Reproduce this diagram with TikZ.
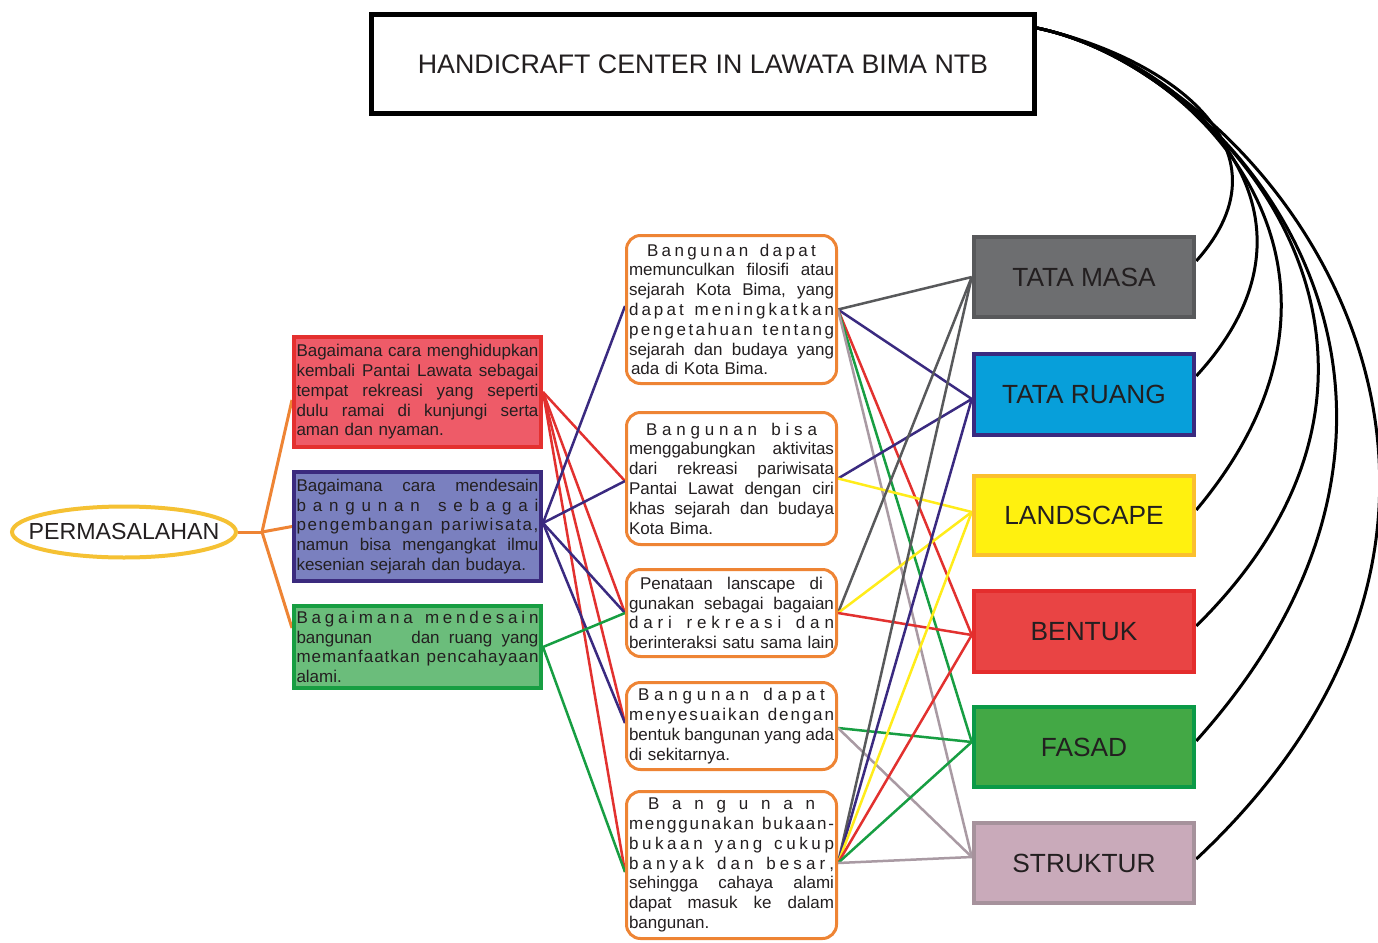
\documentclass[tikz,border=0pt]{standalone}
\usepackage{fontspec}
\setmainfont{Liberation Sans}
\usetikzlibrary{shapes.geometric,backgrounds}
\setlength\parindent{0pt}

\definecolor{txt}{HTML}{231F20}
\definecolor{ellc}{HTML}{F5C133}
\definecolor{orng}{HTML}{EE8434}
\definecolor{pAfill}{HTML}{EE5B68}
\definecolor{pAdraw}{HTML}{E4302F}
\definecolor{pBfill}{HTML}{7A80BF}
\definecolor{pBdraw}{HTML}{3B2A7E}
\definecolor{pCfill}{HTML}{6BBD7B}
\definecolor{pCdraw}{HTML}{179E42}
\definecolor{tmfill}{HTML}{6D6E70}
\definecolor{tmdraw}{HTML}{58595B}
\definecolor{trfill}{HTML}{079FDA}
\definecolor{trdraw}{HTML}{3A2A7F}
\definecolor{lsfill}{HTML}{FFF10F}
\definecolor{lsdraw}{HTML}{FBBF2E}
\definecolor{befill}{HTML}{E94444}
\definecolor{bedraw}{HTML}{E42D2D}
\definecolor{fafill}{HTML}{43A845}
\definecolor{fadraw}{HTML}{0B9A47}
\definecolor{stfill}{HTML}{C9AABA}
\definecolor{stdraw}{HTML}{A6929C}
\definecolor{lgray}{HTML}{58595B}
\definecolor{lblue}{HTML}{3A2A80}
\definecolor{lred}{HTML}{E2312F}
\definecolor{lgreen}{HTML}{179E42}
\definecolor{lyell}{HTML}{FFEC1A}
\definecolor{lpink}{HTML}{A99AA3}

\ExplSyntaxOn
\bool_new:N \l__rs_first_bool
\bool_new:N \l__rs_inword_bool
\seq_new:N \l__rs_words_seq
\NewDocumentCommand \spreadtxt { m }
 {
  \seq_set_split:Nnn \l__rs_words_seq { ~ } { #1 }
  \bool_set_true:N \l__rs_first_bool
  \seq_map_inline:Nn \l__rs_words_seq
   {
    \bool_if:NTF \l__rs_first_bool
     { \bool_set_false:N \l__rs_first_bool }
     { \hskip 0.28em plus 2fil \relax }
    \bool_set_true:N \l__rs_inword_bool
    \tl_map_inline:nn { ##1 }
     {
      \bool_if:NTF \l__rs_inword_bool
       { \bool_set_false:N \l__rs_inword_bool }
       { \hskip 0pt plus 1fil \relax }
      ####1
     }
   }
 }
\NewDocumentCommand \spreadwords { m }
 {
  \seq_set_split:Nnn \l__rs_words_seq { ~ } { #1 }
  \seq_use:Nn \l__rs_words_seq { \hskip 0.28em plus 1fil minus 0.12em \relax }
 }
\ExplSyntaxOff

\newcommand\jw[1]{\leavevmode\hbox to\linewidth{\spreadwords{#1}}}
\newcommand\js[1]{\leavevmode\hbox to\linewidth{\spreadtxt{#1}}}
\newcommand\jc[2]{\leavevmode\hbox to\linewidth{\hskip#1pt\spreadtxt{#2}\hskip#1pt}}
\newcommand\jwi[2]{\leavevmode\hbox to\linewidth{\hskip#1pt\spreadwords{#2}\hskip#1pt}}

\begin{document}
\begin{tikzpicture}[x=1pt,y=-1pt,
  probbox/.style={rectangle, line width=4pt, minimum width=247pt, inner xsep=2.5pt, inner ysep=0pt,
    text width=242pt, align=left, font=\fontsize{17}{19.8}\selectfont, text=txt},
  midbox/.style={rectangle, rounded corners=14pt, draw=orng, line width=3pt, fill=white,
    minimum width=210pt, inner xsep=2.5pt, inner ysep=0pt, text width=205pt, align=left,
    font=\fontsize{17}{19.8}\selectfont, text=txt},
  catbox/.style={rectangle, line width=4.5pt, minimum width=220pt, minimum height=80pt,
    font=\fontsize{26.3}{30}\selectfont, text=txt},
  conn/.style={line width=2.5pt},
  arc/.style={line width=3pt, draw=black},
  orline/.style={line width=3pt, draw=orng}]
\useasboundingbox (0,0) rectangle (1378,942);

% title
\node[draw=black, line width=5pt, minimum width=663pt, minimum height=99pt,
  font=\fontsize{26.8}{30}\selectfont, text=txt] (title) at (703,64) {HANDICRAFT CENTER IN LAWATA BIMA NTB};

% PERMASALAHAN
\node[ellipse, draw=ellc, line width=4pt, fill=white, minimum width=224pt, minimum height=51pt, inner sep=0pt] (perm) at (124,532) {};
\node[font=\fontsize{23.2}{26}\selectfont, text=txt] (permtext) at (perm.center) {PERMASALAHAN};

% problem boxes
\node[probbox, draw=pAdraw, fill=pAfill, minimum height=110pt] (p1) at (417.5,392) {%
\jw{Bagaimana cara menghidupkan}\\
\jw{kembali Pantai Lawata sebagai}\\
\jw{tempat rekreasi yang seperti}\\
\jw{dulu ramai di kunjungi serta}\\
aman dan nyaman.};
\node[probbox, draw=pBdraw, fill=pBfill, minimum height=109pt] (p2) at (417.5,526.5) {%
\jw{Bagaimana cara mendesain}\\
\js{bangunan sebagai}\\
\js{pengembangan pariwisata,}\\
\jw{namun bisa mengangkat ilmu}\\
kesenian sejarah dan budaya.};
\node[probbox, draw=pCdraw, fill=pCfill, minimum height=82pt] (p3) at (417.5,647) {%
\js{Bagaimana mendesain}\\
\jw{bangunan\hspace{30pt} dan ruang yang}\\
\js{memanfaatkan pencahayaan}\\
alami.};

% middle boxes
\node[midbox, minimum height=148pt] (m1) at (731.5,309.5) {%
\jc{18}{Bangunan dapat}\\
\jw{memunculkan filosifi atau}\\
\jw{sejarah Kota Bima, yang}\\
\js{dapat meningkatkan}\\
\js{pengetahuan tentang}\\
\jw{sejarah dan budaya yang}\\
\hspace*{2pt}ada di Kota Bima.};
\node[midbox, minimum height=132pt] (m2) at (731.5,478.5) {%
\jc{17}{Bangunan bisa}\\
\jw{menggabungkan aktivitas}\\
\jw{dari rekreasi pariwisata}\\
\jw{Pantai Lawat dengan ciri}\\
\jw{khas sejarah dan budaya}\\
Kota Bima.};
\node[midbox, minimum height=87pt] (m3) at (731.5,613) {%
\jwi{11}{Penataan lanscape di}\\
\jw{gunakan sebagai bagaian}\\
\js{dari rekreasi dan}\\
\jw{berinteraksi satu sama lain}};
\node[midbox, minimum height=87pt] (m4) at (731.5,726) {%
\jc{9}{Bangunan dapat}\\
\js{menyesuaikan dengan}\\
\jw{bentuk bangunan yang ada}\\
di sekitarnya.};
\node[midbox, minimum height=147pt] (m5) at (731.5,865) {%
\jc{19}{Bangunan}\\
\js{menggunakan bukaan-}\\
\js{bukaan yang cukup}\\
\js{banyak dan besar,}\\
\jw{sehingga cahaya alami}\\
\jw{dapat masuk ke dalam}\\
bangunan.};

% category boxes
\node[catbox, draw=tmdraw, fill=tmfill] (tm) at (1084,277) {TATA MASA};
\node[catbox, draw=trdraw, fill=trfill, minimum height=81pt] (tr) at (1084,394.5) {TATA RUANG};
\node[catbox, draw=lsdraw, fill=lsfill, minimum height=79pt] (ls) at (1084,515.5) {LANDSCAPE};
\node[catbox, draw=bedraw, fill=befill, minimum height=81pt] (be) at (1084,631.5) {BENTUK};
\node[catbox, draw=fadraw, fill=fafill] (fa) at (1084,747) {FASAD};
\node[catbox, draw=stdraw, fill=stfill] (st) at (1084,863) {STRUKTUR};

% connection points
\coordinate (br) at (262,532);
\coordinate (p1o) at ([yshift=-8pt]p1.west);
\coordinate (p3o) at ([yshift=19pt]p3.west);
\coordinate (p1e) at (p1.east);
\coordinate (p2e) at ([yshift=3.5pt]p2.east);
\coordinate (p3e) at (p3.east);
\coordinate (m1w) at ([yshift=3.5pt]m1.west);
\coordinate (m2w) at ([yshift=-2.5pt]m2.west);
\coordinate (m3w) at (m3.west);
\coordinate (m4w) at ([yshift=3pt]m4.west);
\coordinate (m5w) at ([yshift=-7pt]m5.west);
\coordinate (m1e) at (m1.east);
\coordinate (m2e) at (m2.east);
\coordinate (m3e) at (m3.east);
\coordinate (m4e) at ([yshift=-2pt]m4.east);
\coordinate (m5e) at ([yshift=2pt]m5.east);
\coordinate (tmw) at (tm.west);
\coordinate (trw) at ([yshift=-4.5pt]tr.west);
\coordinate (lsw) at ([yshift=3.5pt]ls.west);
\coordinate (bew) at ([yshift=-3.5pt]be.west);
\coordinate (faw) at ([yshift=5pt]fa.west);
\coordinate (stw) at ([yshift=6pt]st.west);
\coordinate (ts) at ([yshift=-16pt]title.north east);
\coordinate (tme) at ([yshift=16pt]tm.east);
\coordinate (tre) at ([yshift=18.5pt]tr.east);
\coordinate (lse) at ([yshift=5.5pt]ls.east);
\coordinate (bee) at ([yshift=5.5pt]be.east);
\coordinate (fae) at ([yshift=6pt]fa.east);
\coordinate (ste) at ([yshift=4pt]st.east);

\begin{scope}[on background layer]
\fill[white] (0,0) rectangle (1378,942);
% orange tree
\draw[orline] (perm.east) -- (br);
\draw[orline] (br) -- (p1o);
\draw[orline] (br) -- (p2.west);
\draw[orline] (br) -- (p3o);
% problems to middle
\draw[conn, lred] (p1e) -- (m2w);
\draw[conn, lred] (p1e) -- (m3w);
\draw[conn, lred] (p1e) -- (m4w);
\draw[conn, lred] (p1e) -- (m5w);
\draw[conn, lblue] (p2e) -- (m1w);
\draw[conn, lblue] (p2e) -- (m2w);
\draw[conn, lblue] (p2e) -- (m3w);
\draw[conn, lblue] (p2e) -- (m4w);
\draw[conn, lgreen] (p3e) -- (m3w);
\draw[conn, lgreen] (p3e) -- (m5w);
% middle to categories
\draw[conn, lgray] (m1e) -- (tmw);
\draw[conn, lblue] (m1e) -- (trw);
\draw[conn, lred] (m1e) -- (bew);
\draw[conn, lgreen] (m1e) -- (faw);
\draw[conn, lpink] (m1e) -- (stw);
\draw[conn, lblue] (m2e) -- (trw);
\draw[conn, lyell] (m2e) -- (lsw);
\draw[conn, lgray] (m3e) -- (tmw);
\draw[conn, lyell] (m3e) -- (lsw);
\draw[conn, lred] (m3e) -- (bew);
\draw[conn, lgreen] (m4e) -- (faw);
\draw[conn, lpink] (m4e) -- (stw);
\draw[conn, lgray] (m5e) -- (tmw);
\draw[conn, lblue] (m5e) -- (trw);
\draw[conn, lyell] (m5e) -- (lsw);
\draw[conn, lred] (m5e) -- (bew);
\draw[conn, lgreen] (m5e) -- (faw);
\draw[conn, lpink] (m5e) -- (stw);
% black arcs from title
\draw[arc] (ts) .. controls (1160,55) and (1300,145) .. (tme);
\draw[arc] (ts) .. controls (1180,58) and (1350.4,208.9) .. (tre);
\draw[arc] (ts) .. controls (1198,61) and (1398,269.25) .. (lse);
\draw[arc] (ts) .. controls (1228,68) and (1468,358) .. (bee);
\draw[arc] (ts) .. controls (1243.6,71.6) and (1501.6,400.6) .. (fae);
\draw[arc] (ts) .. controls (1280,80) and (1580,500) .. (ste);
\end{scope}
\end{tikzpicture}
\end{document}
